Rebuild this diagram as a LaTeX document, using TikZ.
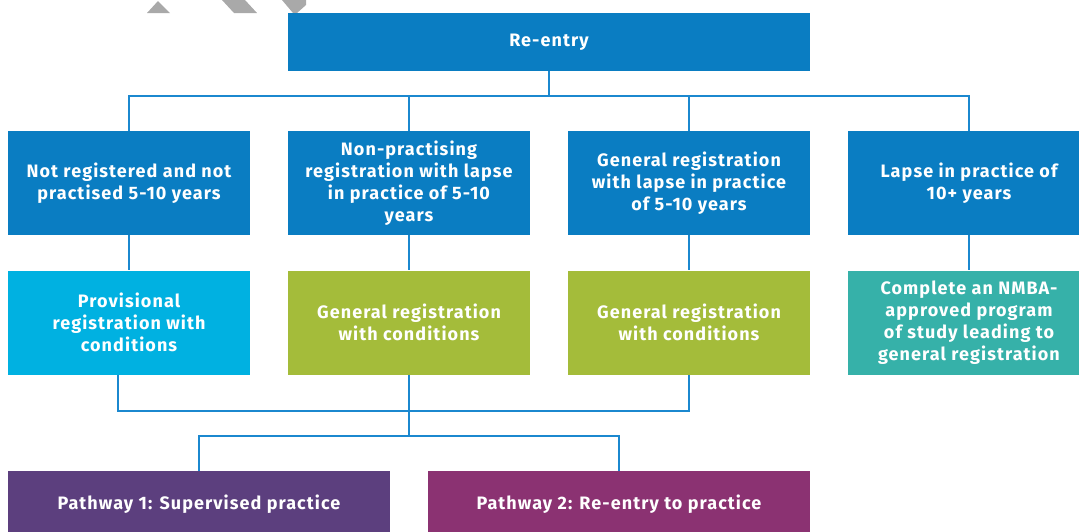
\documentclass[tikz,border=0pt]{standalone}
\usepackage{fontspec}
\setmainfont{Fira Sans}[LetterSpace=6]
\definecolor{reblue}{HTML}{0A7DC2}
\definecolor{provblue}{HTML}{00B1E1}
\definecolor{condgreen}{HTML}{A4BC3A}
\definecolor{studyteal}{HTML}{36B1A9}
\definecolor{pathone}{HTML}{5C3F7E}
\definecolor{pathtwo}{HTML}{8B3272}
\definecolor{linkblue}{HTML}{1B88CF}
\definecolor{markgray}{HTML}{A9A9A9}
\tikzset{
  box/.style={fill=#1, text=white, font=\fontsize{18}{22}\selectfont\bfseries, align=center, inner sep=0pt, minimum width=242pt, minimum height=104pt},
  link/.style={draw=linkblue, line width=1.8pt}
}
\begin{document}
\begin{tikzpicture}[x=1pt,y=-1pt]
    \useasboundingbox (0,0) rectangle (1079,531);
    \fill[markgray] (147,13) -- (158,1) -- (170,13) -- cycle;
    \fill[markgray] (222,0) -- (245,0) -- (257,13) -- (234,13) -- cycle;
    \fill[markgray] (282,0) -- (306,0) -- (306,5) -- (297,13) -- (293,13) -- cycle;
    \node[box=reblue, minimum width=522pt, minimum height=58pt] (reentry) at (549,42) {Re-entry};
    \node[box=reblue] (notreg) at (129,183) {Not registered and not\\practised 5-10 years};
    \node[box=reblue] (nonprac) at (409,183) {Non-practising\\registration with lapse\\in practice of 5-10\\years};
    \node[box=reblue] (genlapse) at (689,183) {General registration\\with lapse in practice\\of 5-10 years};
    \node[box=reblue] (lapse) at (969,183) {Lapse in practice of\\10+ years};
    \node[box=provblue] (prov) at (129,322.5) {Provisional\\registration with\\conditions};
    \node[box=condgreen] (condone) at (409,322.5) {General registration\\with conditions};
    \node[box=condgreen] (condtwo) at (689,322.5) {General registration\\with conditions};
    \node[box=studyteal] (study) at (969,322.5) {Complete an NMBA-\\approved program\\of study leading to\\general registration};
    \node[box=pathone, minimum width=382pt, minimum height=66pt] (pathone) at (199,504) {Pathway 1: Supervised practice};
    \node[box=pathtwo, minimum width=382pt, minimum height=66pt] (pathtwo) at (619,504) {Pathway 2: Re-entry to practice};
    \coordinate (topbar) at (549,96);
    \coordinate (lowbar) at (409,411);
    \coordinate (pathbar) at (409,436);
    \draw[link] (reentry) -- (topbar);
    \draw[link] (notreg.north) -- (notreg.north |- topbar) -- (lapse.north |- topbar) -- (lapse.north);
    \draw[link] (nonprac.north) -- (nonprac.north |- topbar);
    \draw[link] (genlapse.north) -- (genlapse.north |- topbar);
    \foreach \a/\b in {notreg/prov, nonprac/condone, genlapse/condtwo, lapse/study}
        \draw[link] (\a) -- (\b);
    \draw[link] ([xshift=-11pt]prov.south) -- ([xshift=-11pt]prov.south |- lowbar) -- (condtwo.south |- lowbar) -- (condtwo.south);
    \draw[link] (condone) -- (pathbar);
    \draw[link] (pathone.north) -- (pathone.north |- pathbar) -- (pathtwo.north |- pathbar) -- (pathtwo.north);
\end{tikzpicture}
\end{document}
